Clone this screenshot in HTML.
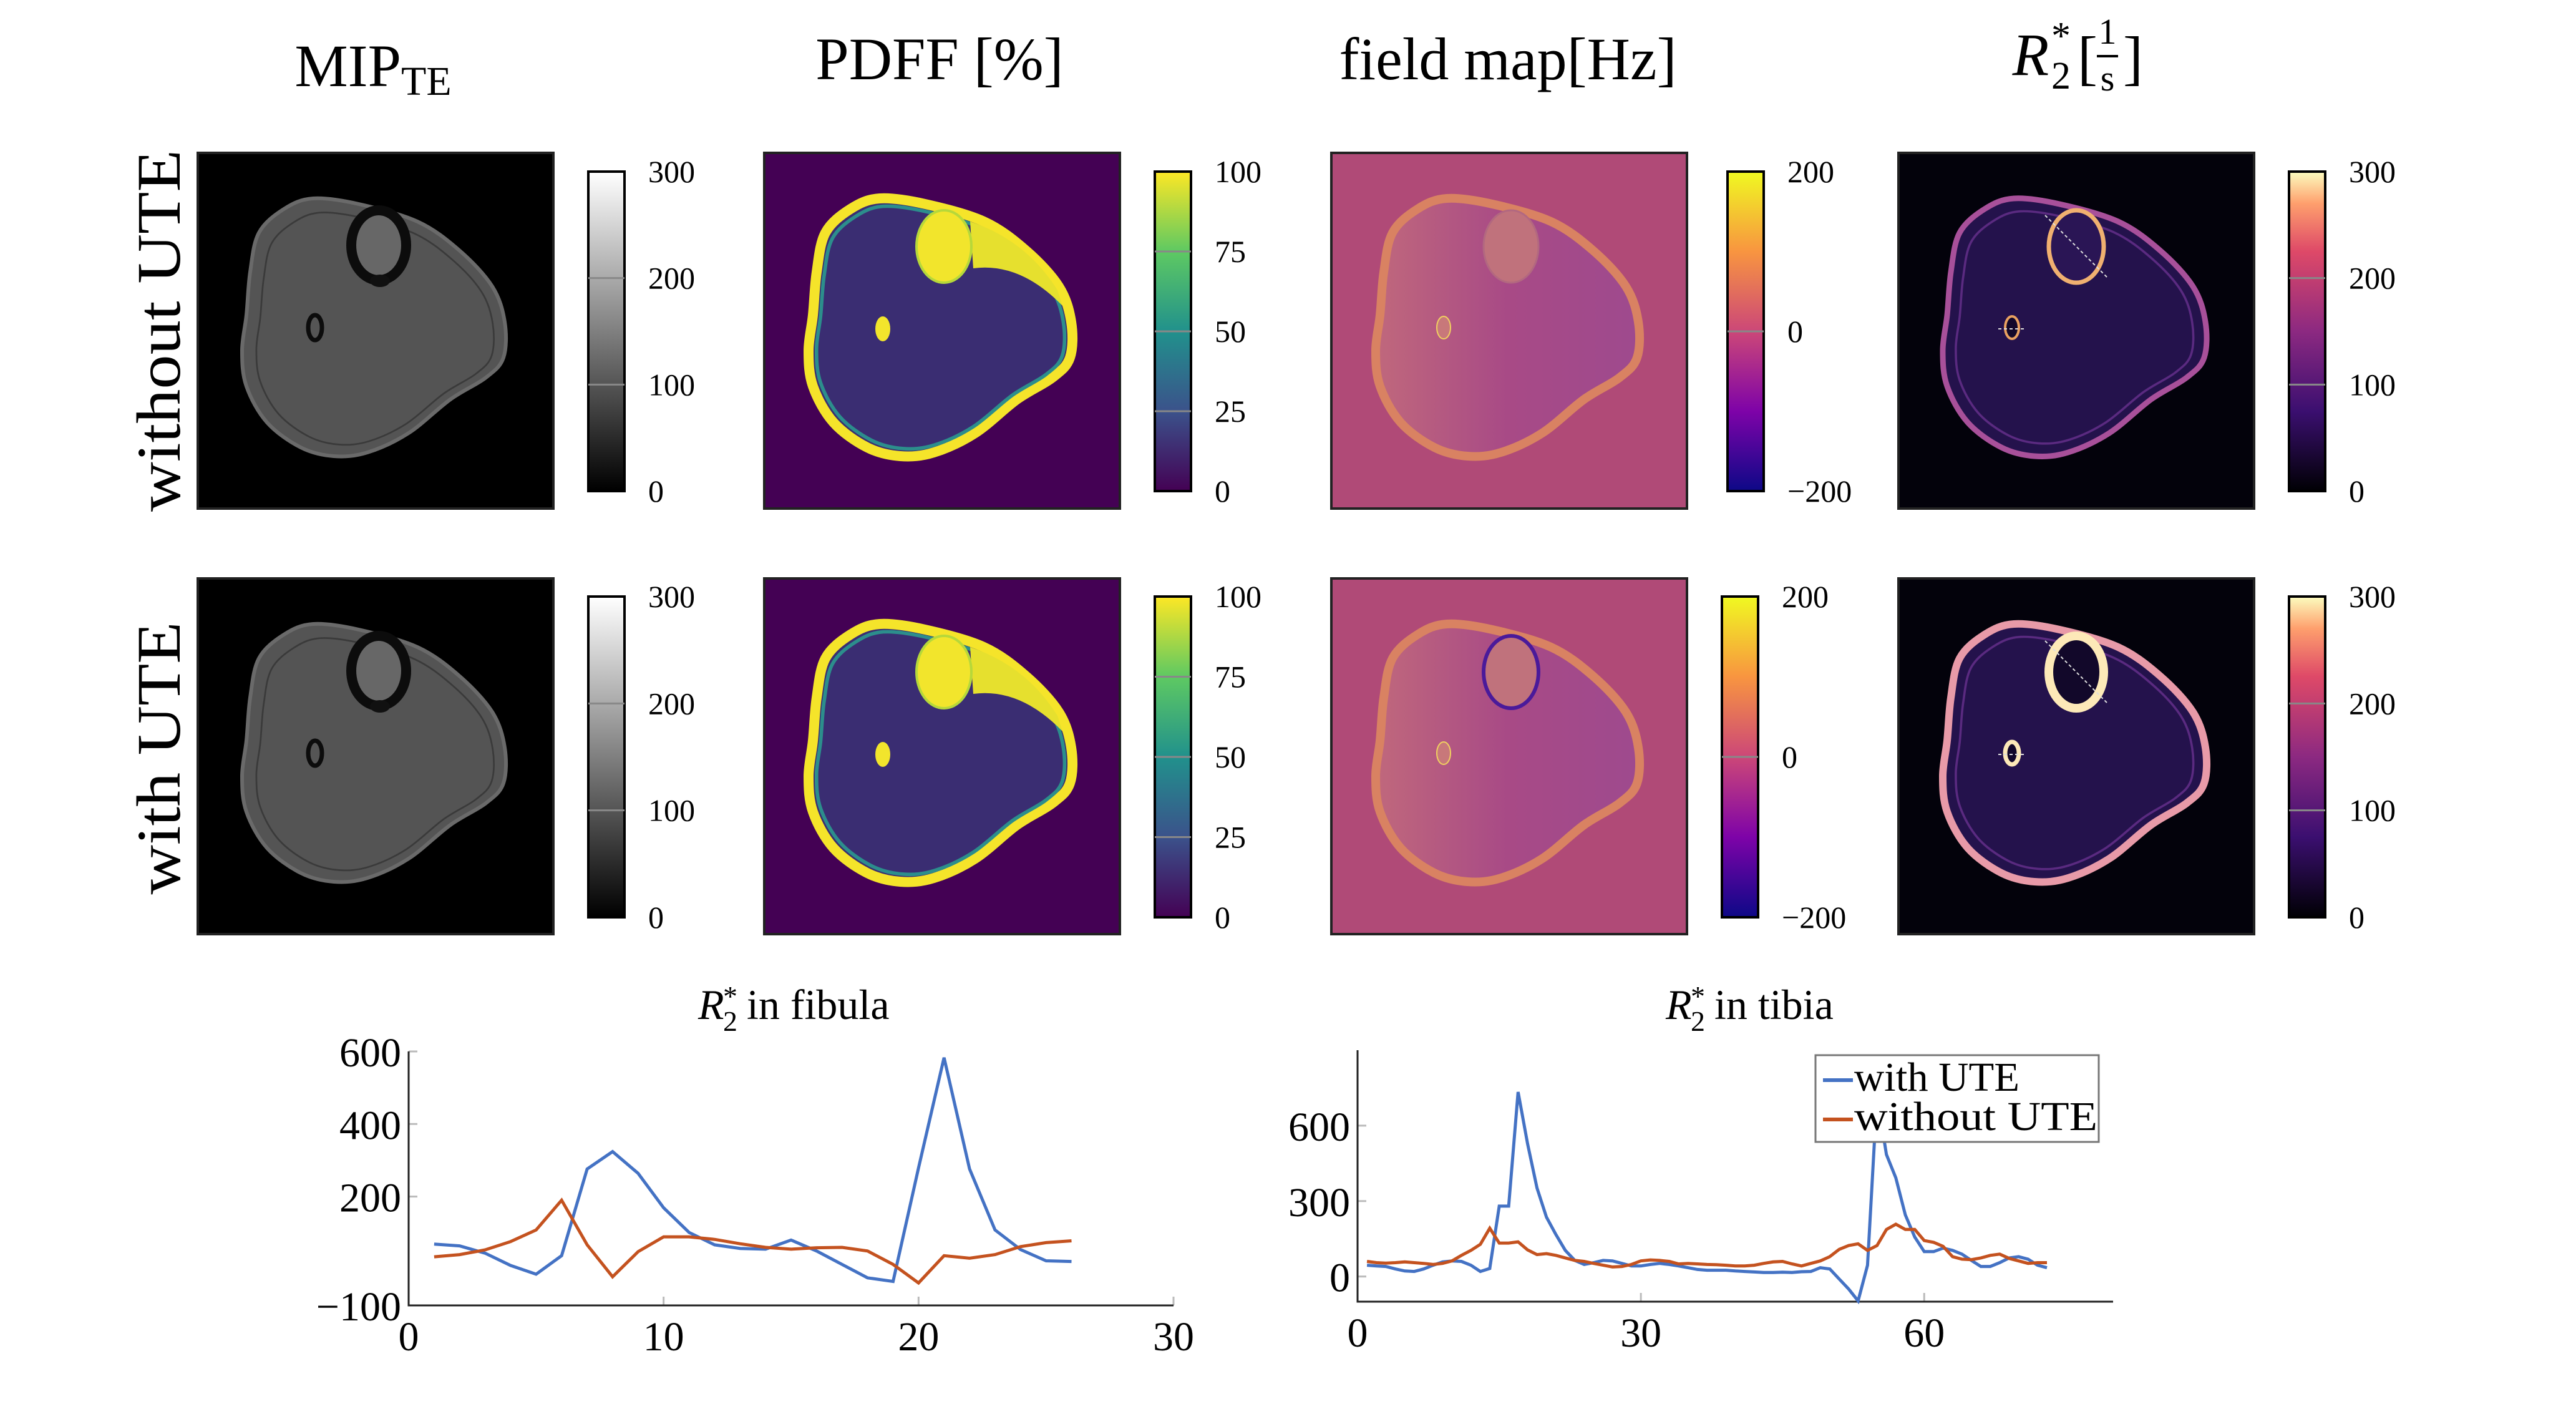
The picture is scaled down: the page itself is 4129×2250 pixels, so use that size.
<!DOCTYPE html>
<html><head><meta charset="utf-8"><style>
html,body{margin:0;padding:0;background:#fff;}
svg{display:block;}
text{font-family:"Liberation Serif",serif;fill:#000;}
</style></head><body>
<svg id="root" xmlns="http://www.w3.org/2000/svg" width="4129" height="2250" viewBox="0 0 4129 2250">
<defs>
<linearGradient id="gGray" x1="0" y1="1" x2="0" y2="0"><stop offset="0" stop-color="#000"/><stop offset="1" stop-color="#fff"/></linearGradient>
<linearGradient id="gViridis" x1="0" y1="1" x2="0" y2="0"><stop offset="0" stop-color="#440154"/><stop offset="0.25" stop-color="#3b528b"/><stop offset="0.5" stop-color="#21918c"/><stop offset="0.75" stop-color="#5ec962"/><stop offset="1" stop-color="#fde725"/></linearGradient>
<linearGradient id="gPlasma" x1="0" y1="1" x2="0" y2="0"><stop offset="0" stop-color="#0d0887"/><stop offset="0.25" stop-color="#7e03a8"/><stop offset="0.5" stop-color="#cc4778"/><stop offset="0.75" stop-color="#f89540"/><stop offset="1" stop-color="#f0f921"/></linearGradient>
<linearGradient id="gMagma" x1="0" y1="1" x2="0" y2="0"><stop offset="0" stop-color="#000004"/><stop offset="0.25" stop-color="#3b0f70"/><stop offset="0.5" stop-color="#8c2981"/><stop offset="0.75" stop-color="#de4968"/><stop offset="0.9" stop-color="#fe9f6d"/><stop offset="1" stop-color="#fcfdbf"/></linearGradient>
<linearGradient id="gField" x1="0" y1="0" x2="1" y2="0"><stop offset="0" stop-color="#c0687c"/><stop offset="0.5" stop-color="#a84a86"/><stop offset="1" stop-color="#9e4a8e"/></linearGradient>
<path id="leg" d=""/>
<clipPath id="clipImg"><rect x="0" y="0" width="570" height="570"/></clipPath>
</defs>

<text x="598" y="138" font-size="96" text-anchor="middle">MIP<tspan font-size="66" dy="14">TE</tspan></text>
<text x="1506" y="127" font-size="96" text-anchor="middle">PDFF [%]</text>
<text x="2417" y="127" font-size="96" text-anchor="middle">field map[Hz]</text>
<g>
<text x="3255" y="120" font-size="96" font-style="italic" text-anchor="middle">R</text>
<text x="3288" y="142" font-size="62">2</text>
<text x="3288" y="78" font-size="62">*</text>
<text x="3330" y="125" font-size="96">[</text>
<text x="3378" y="70" font-size="58" text-anchor="middle">1</text>
<line x1="3361" y1="90" x2="3395" y2="90" stroke="#000" stroke-width="4"/>
<text x="3378" y="145" font-size="58" text-anchor="middle">s</text>
<text x="3403" y="125" font-size="96">]</text>
</g>

<text transform="translate(288,530) rotate(-90)" font-size="100" text-anchor="middle" textLength="580" lengthAdjust="spacingAndGlyphs">without UTE</text>
<text transform="translate(288,1215) rotate(-90)" font-size="100" text-anchor="middle" textLength="437" lengthAdjust="spacingAndGlyphs">with UTE</text>

<g id="panels"></g>
<g id="charts"></g>
</svg>
<script>
// ---------- chart data ----------
const fibX = [1,2,3,4,5,6,7,8,9,10,11,12,13,14,15,16,17,18,19,20,21,22,23,24,25,26];
const fibWith = [69,64,44,10,-14,37,276,324,264,169,101,67,57,55,80,50,13,-24,-34,279,583,276,108,54,23,21];
const fibWithout = [34,40,53,76,108,190,67,-21,48,89,89,82,70,60,55,59,60,50,13,-38,37,30,40,62,73,78];
const fibXTicks = [0,10,20,30];
const fibYTicks = [600,400,200,-100];
const tibX = [];
for (let i = 1; i <= 73; i++) tibX.push(i);
const tibWith = [45,42,40,30,22,20,30,45,58,62,60,45,20,32,280,280,734,528,352,236,167,104,64,48,55,64,62,52,42,42,48,52,48,42,35,28,25,25,25,22,20,18,16,16,17,16,19,20,35,30,-10,-50,-97,45,720,485,392,245,157,99,99,113,104,89,64,40,40,55,74,79,69,45,35];
const tibWithout = [60,55,53,55,58,55,52,48,52,62,84,104,128,192,133,133,138,106,87,91,84,74,64,60,52,45,38,40,48,62,66,64,60,50,52,50,48,47,45,42,42,45,52,58,60,50,42,52,62,79,108,123,130,104,123,187,208,187,187,143,136,120,79,69,67,74,84,89,72,62,52,55,55];
const tibXTicks = [0,30,60];
const tibYTicks = [600,300,0];
const seriesNames = ["with UTE","without UTE"];

const NS = "http://www.w3.org/2000/svg";
function mk(tag, attrs, parent){ const e=document.createElementNS(NS,tag); for(const k in attrs) e.setAttribute(k,attrs[k]); parent.appendChild(e); return e; }

// smooth closed leg outline (shape, not data)
const legPts = [[185,73],[258,82],[352,110],[419,156],[472,214],[492,271],[490,328],[462,360],[405,395],[338,449],[272,480],[218,486],[165,472],[111,432],[78,374],[71,317],[78,260],[84,191],[98,128],[138,90]];
(function(){
  const n=legPts.length; let d='M'+legPts[0].join(',');
  for(let i=0;i<n;i++){
    const p0=legPts[(i-1+n)%n],p1=legPts[i],p2=legPts[(i+1)%n],p3=legPts[(i+2)%n];
    const c1=[p1[0]+(p2[0]-p0[0])/6,p1[1]+(p2[1]-p0[1])/6];
    const c2=[p2[0]-(p3[0]-p1[0])/6,p2[1]-(p3[1]-p1[1])/6];
    d+=` C${c1[0].toFixed(1)},${c1[1].toFixed(1)} ${c2[0].toFixed(1)},${c2[1].toFixed(1)} ${p2[0]},${p2[1]}`;
  }
  document.getElementById('leg').setAttribute('d',d+'Z');
})();

// ---------- image panels ----------
const panels = document.getElementById('panels');
const colX = [317, 1225, 2134, 3043];
const rowY = [245, 927];
const cbX = [[943,1851,2769,3669],[943,1851,2760,3669]];
const cbY = [[275,787],[956,1470]];
const cbFill = ['url(#gGray)','url(#gViridis)','url(#gPlasma)','url(#gMagma)'];
const cbTicks = [[0,100,200,300],[0,25,50,75,100],[-200,0,200],[0,100,200,300]];
const cbRange = [[0,300],[0,100],[-200,200],[0,300]];
const cbNames = ['mip','pdff','field-map','r2star'];

function drawImage(g, col, row){
  const ute = row===1;
  if(col===0){
    mk('rect',{x:0,y:0,width:570,height:570,fill:'#000'},g);
    mk('use',{href:'#leg',fill:'#545454',stroke:'#6a6a6a','stroke-width':6},g);
    mk('use',{href:'#leg',fill:'none',stroke:'#3a3a3a','stroke-width':3,transform:'translate(30,30) scale(0.9)'},g);
    mk('ellipse',{cx:290,cy:148,rx:44,ry:56,fill:'#676767',stroke:'#0c0c0c','stroke-width':16},g);
    mk('ellipse',{cx:292,cy:205,rx:16,ry:10,fill:'#111'},g);
    mk('ellipse',{cx:188,cy:280,rx:11,ry:20,fill:'#555',stroke:'#0c0c0c','stroke-width':7},g);
  } else if(col===1){
    mk('rect',{x:0,y:0,width:570,height:570,fill:'#440154'},g);
    mk('use',{href:'#leg',fill:'#3a2d72',stroke:'#f5e42a','stroke-width':16},g);
    mk('use',{href:'#leg',fill:'none',stroke:'#2c8e8c','stroke-width':6,transform:'translate(17,17) scale(0.94)'},g);
    mk('path',{d:'M330,110 Q420,140 470,220 L478,245 Q410,175 335,185 Z',fill:'#e6e02e'},g);
    mk('ellipse',{cx:288,cy:150,rx:44,ry:58,fill:'#f2e52c',stroke:'#b6d83a','stroke-width':4},g);
    mk('ellipse',{cx:190,cy:282,rx:12,ry:20,fill:'#f2e52c'},g);
  } else if(col===2){
    mk('rect',{x:0,y:0,width:570,height:570,fill:'#b04a77'},g);
    mk('use',{href:'#leg',fill:'url(#gField)',stroke:'#d98262','stroke-width':14},g);
    mk('ellipse',{cx:288,cy:150,rx:44,ry:58,fill:'#c0727c',stroke:ute?'#4a1a9a':'#b26880','stroke-width':ute?6:3},g);
    mk('ellipse',{cx:180,cy:280,rx:11,ry:18,fill:'#c8787a',stroke:'#f0d060','stroke-width':2},g);
  } else {
    mk('rect',{x:0,y:0,width:570,height:570,fill:'#03020b'},g);
    mk('use',{href:'#leg',fill:'#24124c',stroke:ute?'#e89aa8':'#a8509a','stroke-width':ute?12:9},g);
    mk('use',{href:'#leg',fill:'none',stroke:'#5a2a80','stroke-width':4,transform:'translate(28,28) scale(0.9)'},g);
    mk('ellipse',{cx:285,cy:150,rx:44,ry:58,fill:ute?'#12082a':'#2a1555',stroke:ute?'#fde9b8':'#f0b070','stroke-width':ute?14:7},g);
    mk('ellipse',{cx:182,cy:280,rx:11,ry:18,fill:'#12082a',stroke:ute?'#fde9b8':'#e8a060','stroke-width':ute?7:4},g);
    mk('line',{x1:235,y1:100,x2:335,y2:200,stroke:'#ddd','stroke-width':2,'stroke-dasharray':'5,4'},g);
    mk('line',{x1:160,y1:282,x2:205,y2:282,stroke:'#ddd','stroke-width':2,'stroke-dasharray':'5,4'},g);
  }
}

for(let r=0;r<2;r++){
  for(let c=0;c<4;c++){
    const g = mk('g',{transform:`translate(${colX[c]},${rowY[r]})`,'clip-path':'url(#clipImg)'},panels);
    
    
    drawImage(g,c,r);
    mk('rect',{x:colX[c],y:rowY[r],width:570,height:570,fill:'none',stroke:'#222','stroke-width':4},panels);
    const cb = mk('g',{},panels);
    
    
    const x0=cbX[r][c], y0=cbY[r][0], y1=cbY[r][1];
    mk('rect',{x:x0,y:y0,width:58,height:y1-y0,fill:cbFill[c],stroke:'#000','stroke-width':4},cb);
    const [lo,hi]=cbRange[c];
    cbTicks[c].forEach(v=>{
      const y = y1 - (v-lo)/(hi-lo)*(y1-y0);
      if(v!==lo && v!==hi) mk('line',{x1:x0,y1:y,x2:x0+58,y2:y,stroke:'#888','stroke-width':3},cb);
      const t = mk('text',{x:x0+96,y:y+17,'font-size':50},cb);
      t.textContent = v<0 ? '\u2212'+Math.abs(v) : String(v);
      
      
    });
  }
}

// ---------- line charts ----------
const charts = document.getElementById('charts');
function drawChart(cfg){
  const g = mk('g',{},charts);
  
  
  const sx = v => cfg.x0 + (v-cfg.xmin)/(cfg.xmax-cfg.xmin)*(cfg.x1-cfg.x0);
  const sy = v => cfg.y1 - (v-cfg.ymin)/(cfg.ymax-cfg.ymin)*(cfg.y1-cfg.y0);
  cfg.xticks.forEach(v=>{
    if(v!==cfg.xmin) mk('line',{x1:sx(v),y1:cfg.y1,x2:sx(v),y2:cfg.y1-14,stroke:'#bbb','stroke-width':3},g);
    const t = mk('text',{x:sx(v),y:cfg.y1+72,'font-size':66,'text-anchor':'middle'},g);
    t.textContent = String(v);
    
    
  });
  cfg.yticks.forEach(v=>{
    if(v!==cfg.ymin) mk('line',{x1:cfg.x0,y1:sy(v),x2:cfg.x0+14,y2:sy(v),stroke:'#bbb','stroke-width':3},g);
    const t = mk('text',{x:cfg.x0-12,y:sy(v)+24,'font-size':66,'text-anchor':'end'},g);
    t.textContent = v<0 ? '\u2212'+Math.abs(v) : String(v);
    
    
  });
  const ax = mk('path',{d:`M${cfg.x0},${cfg.y0} L${cfg.x0},${cfg.y1} L${cfg.x1},${cfg.y1}`,fill:'none',stroke:'#222','stroke-width':3},g);
  
  
  const cols = ['#4472c4','#c4521f'];
  [cfg.a, cfg.b].forEach((arr,si)=>{
    const d = arr.map((v,i)=>(i?'L':'M')+sx(cfg.xs[i]).toFixed(1)+','+sy(v).toFixed(1)).join(' ');
    const p = mk('path',{d:d,fill:'none',stroke:cols[si],'stroke-width':5,'stroke-linejoin':'miter'},g);
    
    
  });
  const tg = mk('g',{},g);
  
  
  const t1 = mk('text',{x:cfg.tx-150,y:1633,'font-size':68,'font-style':'italic'},tg); t1.textContent='R';
  const t2 = mk('text',{x:cfg.tx-110,y:1652,'font-size':46},tg); t2.textContent='2';
  const t3 = mk('text',{x:cfg.tx-110,y:1612,'font-size':46},tg); t3.textContent='*';
  const t4 = mk('text',{x:cfg.tx-72,y:1633,'font-size':68},tg); t4.textContent=cfg.title;
  return {g,sx,sy};
}
drawChart({name:'chart-fibula',x0:655,x1:1881,y0:1685,y1:2092,xmin:0,xmax:30,ymin:-100,ymax:600,
  xs:fibX,a:fibWith,b:fibWithout,xticks:fibXTicks,yticks:fibYTicks,tx:1269,title:'in fibula'});
const tib = drawChart({name:'chart-tibia',x0:2176,x1:3387,y0:1683,y1:2086,xmin:0,xmax:80,ymin:-100,ymax:900,
  xs:tibX,a:tibWith,b:tibWithout,xticks:tibXTicks,yticks:tibYTicks,tx:2820,title:'in tibia'});

const lg = mk('g',{},tib.g);


mk('rect',{x:2910,y:1691,width:454,height:139,fill:'#fff',stroke:'#777','stroke-width':3},lg);
const lcols=['#4472c4','#c4521f'];
seriesNames.forEach((n,i)=>{
  const e = mk('g',{},lg);
  
  
  const y = 1748 + i*63;
  mk('line',{x1:2922,y1:y-17,x2:2970,y2:y-17,stroke:lcols[i],'stroke-width':6},e);
  const t = mk('text',{x:2972,y:y,'font-size':66,textLength:i?'390':'265',lengthAdjust:'spacingAndGlyphs'},e);
  t.textContent = n;
});
</script>
</body></html>
